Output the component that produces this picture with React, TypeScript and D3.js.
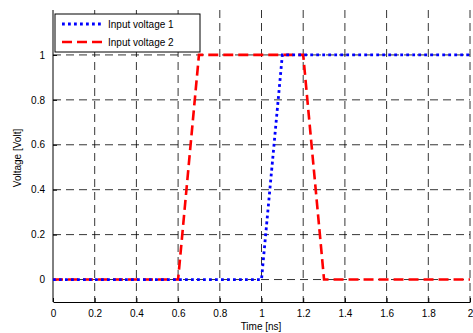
import React, { useEffect, useRef } from 'react';
import * as d3 from 'd3';

// time axis in ns, voltages in Volt
const time1 = [0, 1.0, 1.1, 2.0];
const volt1 = [0, 0, 1, 1];
const time2 = [0, 0.6, 0.7, 1.2, 1.3, 2.0];
const volt2 = [0, 0, 1, 1, 0, 0];
const seriesNames = ['Input voltage 1', 'Input voltage 2'];
const xTicks = [0, 0.2, 0.4, 0.6, 0.8, 1, 1.2, 1.4, 1.6, 1.8, 2];
const yTicks = [0, 0.2, 0.4, 0.6, 0.8, 1];

const App = () => {
    const ref = useRef<SVGSVGElement | null>(null);

    useEffect(() => {
        const svg = d3.select(ref.current);
        svg.selectAll('*').remove();

        const margin = { top: 10, right: 3, bottom: 31, left: 53 };
        const width = 473 - margin.left - margin.right;
        const height = 333 - margin.top - margin.bottom;
        const font = "'Liberation Sans', Arial, sans-serif";

        const x = d3.scaleLinear().domain([0, 2]).range([0, 417]);
        const y = d3.scaleLinear().domain([-0.1, 1.2]).range([height, 0]);

        const g = svg.append('g')
            .attr('transform', `translate(${margin.left},${margin.top})`);

        // grid
        g.selectAll('.vgrid')
            .data(xTicks.slice(1))
            .enter()
            .append('line')
            .attr('x1', (d) => x(d))
            .attr('x2', (d) => x(d))
            .attr('y1', 0)
            .attr('y2', height)
            .attr('stroke', '#000')
            .attr('stroke-width', 0.8)
            .attr('stroke-dasharray', '8,5');

        g.selectAll('.hgrid')
            .data(yTicks)
            .enter()
            .append('line')
            .attr('x1', 0)
            .attr('x2', x(2))
            .attr('y1', (d) => y(d))
            .attr('y2', (d) => y(d))
            .attr('stroke', '#000')
            .attr('stroke-width', 0.8)
            .attr('stroke-dasharray', '8,5');

        // axes
        const xAxis = d3.axisBottom(x)
            .tickValues(xTicks)
            .tickSizeInner(-4)
            .tickSizeOuter(0)
            .tickPadding(8)
            .tickFormat((d) => String(d));
        const yAxis = d3.axisLeft(y)
            .tickValues(yTicks)
            .tickSizeInner(-4)
            .tickSizeOuter(0)
            .tickPadding(8)
            .tickFormat((d) => String(d));

        const gx = g.append('g')
            .attr('transform', `translate(0,${height})`)
            .call(xAxis);
        const gy = g.append('g').call(yAxis);

        [gx, gy].forEach((ax) => {
            ax.select('.domain').attr('stroke', '#000').attr('stroke-width', 1);
            ax.selectAll('line').attr('stroke', '#000');
            ax.selectAll('text')
                .attr('fill', '#000')
                .style('font-family', font)
                .style('font-size', '10px');
        });
        gy.select('.domain').attr('d', `M0,${height}V0`);

        const line = d3.line<[number, number]>()
            .x((d) => x(d[0]))
            .y((d) => y(d[1]));

        const pts1 = time1.map((t, i) => [t, volt1[i]] as [number, number]);
        const pts2 = time2.map((t, i) => [t, volt2[i]] as [number, number]);

        g.append('path')
            .attr('d', line(pts2))
            .attr('fill', 'none')
            .attr('stroke', '#ff0000')
            .attr('stroke-width', 2.6)
            .attr('stroke-dasharray', '10,5');

        g.append('path')
            .attr('d', line(pts1))
            .attr('fill', 'none')
            .attr('stroke', '#0000ff')
            .attr('stroke-width', 2.8)
            .attr('stroke-dasharray', '2.8,3.2');

        // legend
        const legend = g.append('g').attr('transform', 'translate(2,4)');
        legend.append('rect')
            .attr('width', 145)
            .attr('height', 38)
            .attr('fill', '#fff')
            .attr('stroke', '#000')
            .attr('stroke-width', 1);
        const styles = [
            { color: '#0000ff', dash: '2.8,3.2', w: 2.8 },
            { color: '#ff0000', dash: '10,5', w: 2.6 },
        ];
        seriesNames.forEach((name, i) => {
            const ly = 10 + i * 18;
            legend.append('line')
                .attr('x1', 7)
                .attr('x2', 48)
                .attr('y1', ly)
                .attr('y2', ly)
                .attr('stroke', styles[i].color)
                .attr('stroke-width', styles[i].w)
                .attr('stroke-dasharray', styles[i].dash);
            legend.append('text')
                .attr('x', 53)
                .attr('y', ly + 3.5)
                .text(name)
                .style('font-family', font)
                .style('font-size', '10px');
        });

        // labels
        svg.append('text')
            .attr('x', 261)
            .attr('y', 330)
            .attr('text-anchor', 'middle')
            .text('Time [ns]')
            .style('font-family', font)
            .style('font-size', '10px');

        svg.append('text')
            .attr('transform', 'translate(21,158) rotate(-90)')
            .attr('text-anchor', 'middle')
            .text('Voltage [Volt]')
            .style('font-family', font)
            .style('font-size', '10px');
    }, []);

    return (
        <svg
            ref={ref}
            width={473}
            height={333}
            style={{ position: 'absolute', left: 0, top: 0, background: '#fff' }}
        />
    );
};

export default App;
